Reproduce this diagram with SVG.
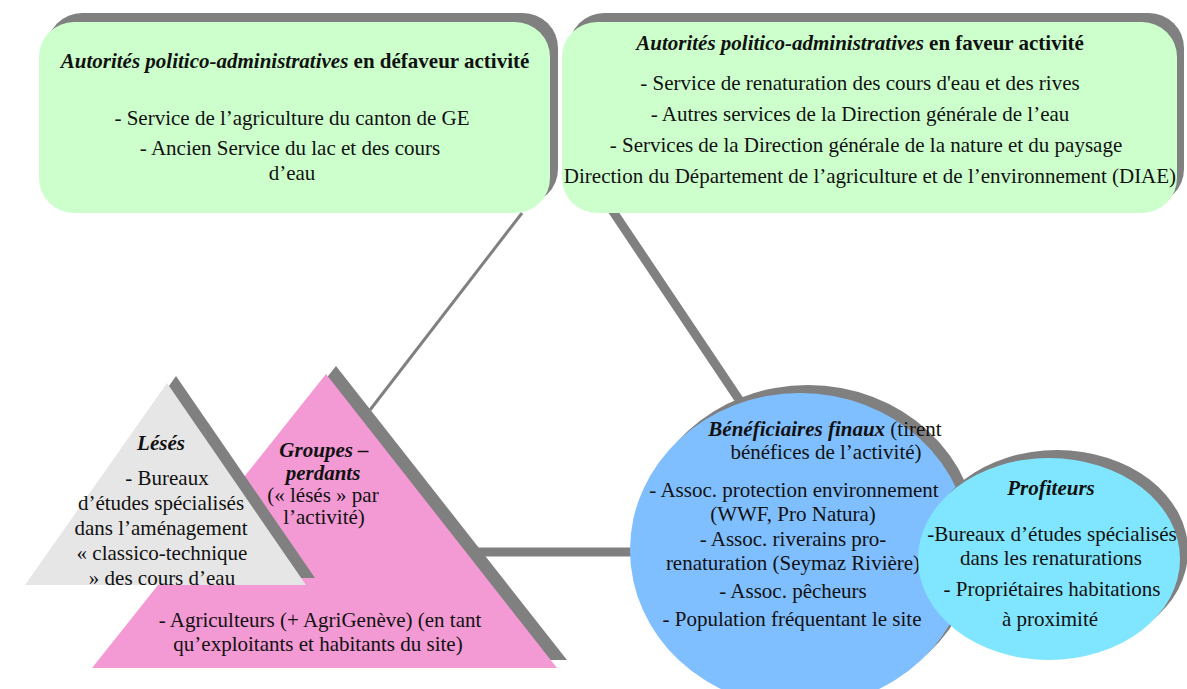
<svg xmlns="http://www.w3.org/2000/svg" width="1187" height="689" viewBox="0 0 1187 689">
<style>
.t{font-family:"Liberation Serif","Times New Roman",serif;font-size:21px;fill:#111;text-anchor:middle}
.b{font-weight:bold}
.bi{font-weight:bold;font-style:italic}
.sh{fill:#808080}
.ln{stroke:#808080;fill:none}
</style>
<rect width="1187" height="689" fill="#ffffff"/>
<g id="connectors">
<line class="ln" x1="522" y1="213" x2="370" y2="410" stroke-width="3"/>
<line class="ln" x1="612" y1="210" x2="746" y2="410" stroke-width="9"/>
<line class="ln" x1="470" y1="552" x2="645" y2="552" stroke-width="9"/>
</g>
<g id="box-defaveur">
<rect class="sh" x="47" y="13" width="511" height="191" rx="35"/>
<rect x="39" y="22" width="511" height="191" rx="35" fill="#ccffcc"/>
<text class="t" x="295" y="68"><tspan class="bi">Autorités politico-administratives</tspan><tspan class="b"> en défaveur  activité</tspan></text>
<text class="t" x="292" y="125">- Service de l’agriculture du canton de GE</text>
<text class="t" x="290" y="155">- Ancien Service du lac et des cours</text>
<text class="t" x="292" y="180">d’eau</text>
</g>
<g id="box-faveur">
<rect class="sh" x="569" y="13" width="615" height="191" rx="35"/>
<rect x="562" y="22" width="615" height="191" rx="35" fill="#ccffcc"/>
<text class="t" x="860" y="50"><tspan class="bi">Autorités politico-administratives</tspan><tspan class="b"> en faveur activité</tspan></text>
<text class="t" x="860" y="90">- Service de renaturation des cours d'eau et des rives</text>
<text class="t" x="860" y="121">- Autres services de la Direction générale de l’eau</text>
<text class="t" x="866" y="152">- Services de la Direction générale de la nature et du paysage</text>
<text class="t" x="870" y="183">Direction du Département de l’agriculture et de l’environnement (DIAE)</text>
</g>
<g id="groupes-perdants">
<polygon class="sh" points="336,366 102,660 567,660"/>
<polygon points="326,374 92,668 557,668" fill="#f39ad4"/>
<text class="t" x="324" y="457"><tspan class="bi">Groupes –</tspan></text>
<text class="t" x="323" y="480"><tspan class="bi">perdants</tspan></text>
<text class="t" x="323" y="502">(« lésés » par</text>
<text class="t" x="324" y="524">l’activité)</text>
<text class="t" x="320" y="627">- Agriculteurs (+ AgriGenève) (en tant</text>
<text class="t" x="318" y="651">qu’exploitants et habitants du site)</text>
</g>
<g id="leses">
<polygon class="sh" points="176,376 34,578 315,578"/>
<polygon points="167,383 25,585 306,585" fill="#e6e6e6"/>
<text class="t" x="161" y="450"><tspan class="bi">Lésés</tspan></text>
<text class="t" x="167" y="485">- Bureaux</text>
<text class="t" x="161" y="510">d’études spécialisés</text>
<text class="t" x="161" y="535">dans l’aménagement</text>
<text class="t" x="162" y="560">« classico-technique</text>
<text class="t" x="162" y="585">» des cours d’eau</text>
</g>
<g id="beneficiaires">
<ellipse class="sh" cx="808" cy="542" rx="170" ry="157"/>
<ellipse cx="800" cy="550" rx="170" ry="157" fill="#80bfff"/>
<text class="t" x="825" y="436"><tspan class="bi">Bénéficiaires finaux</tspan> (tirent</text>
<text class="t" x="826" y="459">bénéfices de l’activité)</text>
<text class="t" x="794" y="497">- Assoc. protection environnement</text>
<text class="t" x="793" y="521">(WWF, Pro Natura)</text>
<text class="t" x="793" y="546">- Assoc. riverains pro-</text>
<text class="t" x="793" y="570">renaturation (Seymaz Rivière)</text>
<text class="t" x="793" y="598">- Assoc. pêcheurs</text>
<text class="t" x="792" y="626">- Population fréquentant le site</text>
</g>
<g id="profiteurs">
<ellipse class="sh" cx="1057" cy="551" rx="131" ry="101"/>
<ellipse cx="1049" cy="559" rx="131" ry="101" fill="#80e6ff"/>
<text class="t" x="1051" y="495"><tspan class="bi">Profiteurs</tspan></text>
<text class="t" x="1052" y="541">-Bureaux d’études spécialisés</text>
<text class="t" x="1051" y="565">dans les renaturations</text>
<text class="t" x="1052" y="596">- Propriétaires habitations</text>
<text class="t" x="1050" y="626">à proximité</text>
</g>
</svg>
